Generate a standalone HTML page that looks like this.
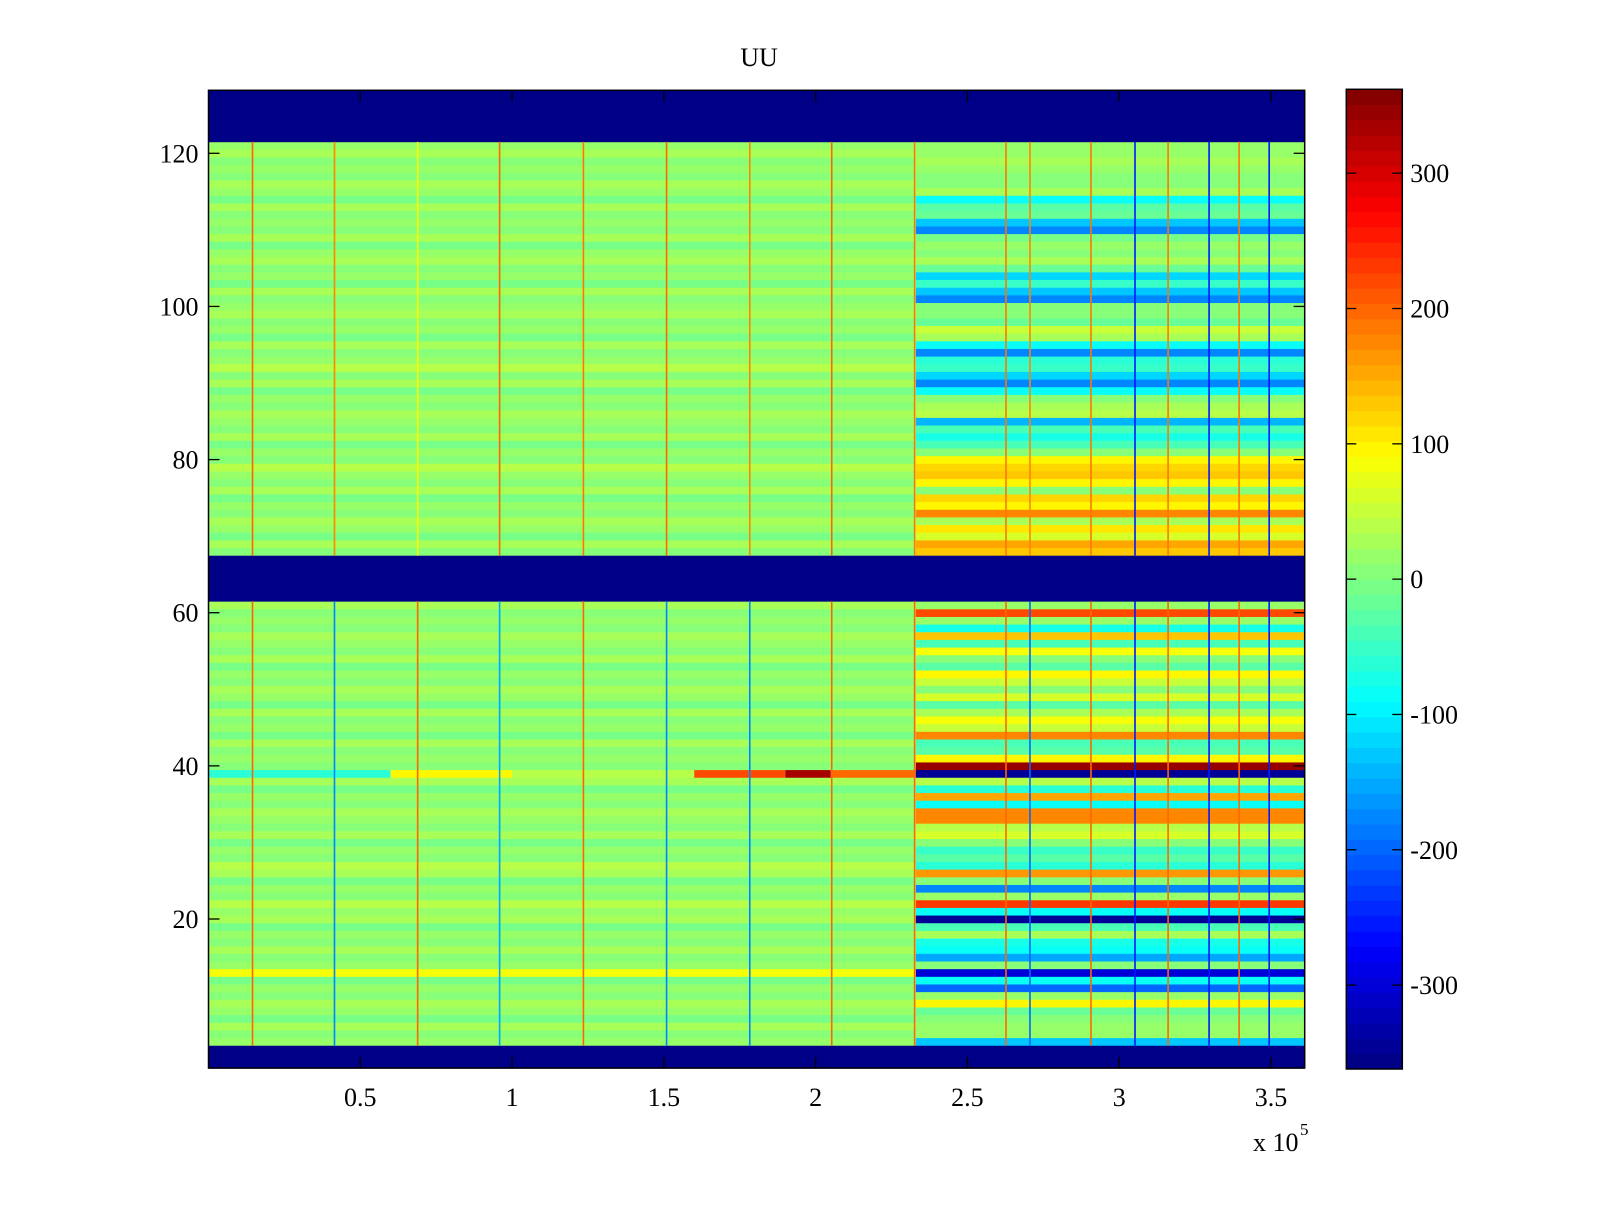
<!DOCTYPE html>
<html><head><meta charset="utf-8"><style>
html,body{margin:0;padding:0;background:#fff;}
svg text{font-family:"Liberation Serif",serif;fill:#000;}
</style></head><body>
<svg id="fig" width="1600" height="1200" xmlns="http://www.w3.org/2000/svg">
<rect width="1600" height="1200" fill="#fff"/>
<g id="cells"></g>
<g id="vlines"></g>
<g id="cbar"></g>
<g id="axes"></g>
<text x="759" y="66" font-size="26" text-anchor="middle">UU</text>
<text x="1253" y="1151" font-size="26">x 10</text>
<text x="1300" y="1135" font-size="17">5</text>
</svg>
<script>
// ---- data ----
const xMin = 0, xMax = 3.611;           // x in units of 1e5
const yMin = 0.5, yMax = 128.23;
const cMin = -362, cMax = 362;
const transitionX = 2.33;
const blueRows = [1,2,3,62,63,64,65,66,67,122,123,124,125,126,127,128];
// left-region base values, rows 4..61
const leftLower = [15,5,30,-5,20,25,5,15,-5,80,15,5,25,5,20,-5,25,15,35,5,20,-5,25,45,5,20,-5,25,5,20,25,5,15,-5,25,25,5,15,5,25,-5,15,5,25,-5,15,25,5,15,-5,25,5,15,25,5,15,5,25];
// left-region base values, rows 68..121
const leftUpper = [5,25,-5,15,25,5,15,-5,25,5,15,35,5,15,-5,25,5,15,25,5,15,-5,25,5,35,15,5,25,-5,15,5,25,15,5,25,-5,15,5,25,15,-5,25,5,15,5,25,-5,15,25,5,15,5,25,15];
// right-region values, rows 4..61
const rightLower = [-130,20,20,0,-20,100,20,-200,-90,-300,0,-150,-80,-70,30,-40,-340,-80,230,20,-180,0,160,-60,-30,-50,0,60,40,170,170,-80,150,-60,40,-350,350,100,-30,-40,170,50,80,30,-30,60,10,50,100,-30,0,80,-40,130,-70,20,220,20];
// right-region values, rows 68..121
const rightUpper = [130,150,60,110,30,180,100,120,10,100,130,120,100,10,-40,-70,-40,-140,40,30,0,-80,-180,-120,-50,-60,-170,-80,30,50,-20,0,0,-170,-130,-50,-120,-20,30,0,20,-10,-170,-130,-20,-30,-80,30,0,10,20,30,20,20];
// row 39 special segments in left region
const row39Starts = [0, 0.6, 1.0, 1.6, 1.9, 2.05];
const row39Ends   = [0.6, 1.0, 1.6, 1.9, 2.05, 2.33];
const row39Vals   = [-60, 100, 40, 220, 330, 200];
// vertical event lines
const lineX     = [0.145,0.415,0.689,0.959,1.235,1.509,1.783,2.053,2.326,2.627,2.706,2.907,3.052,3.161,3.296,3.395,3.494];
const lineUpper = [200,180,90,200,190,200,180,200,190,190,180,190,-250,190,-250,190,-260];
const lineLower = [200,-170,200,-150,200,-170,-170,200,200,200,-200,200,-250,200,-250,200,-250];
const xTicks = [0.5,1,1.5,2,2.5,3,3.5];
const xTickLabels = ["0.5","1","1.5","2","2.5","3","3.5"];
const yTicks = [20,40,60,80,100,120];
const cTicks = [-300,-200,-100,0,100,200,300];

// ---- geometry ----
const PL=208.5, PR=1304.7, PT=90.3, PB=1068;
const pxPerY = 7.657, y120 = 153.3;
const X = v => PL + (v - xMin) / (xMax - xMin) * (PR - PL);
const Y = v => y120 + (120 - v) * pxPerY;
const CBL=1346.3, CBR=1402.3, CBT=89.3, CBB=1069;
const C = v => CBB - (v - cMin) / (cMax - cMin) * (CBB - CBT);

function jet(v){
  let t=(v-cMin)/(cMax-cMin); t=Math.max(0,Math.min(1,t));
  let k=Math.min(63,Math.floor(t*64)); t=(k+0.5)/64;
  const cl=a=>Math.max(0,Math.min(1,a));
  const r=cl(1.5-Math.abs(4*t-3)), g=cl(1.5-Math.abs(4*t-2)), b=cl(1.5-Math.abs(4*t-1));
  return `rgb(${Math.round(r*255)},${Math.round(g*255)},${Math.round(b*255)})`;
}
const NS="http://www.w3.org/2000/svg";
function rect(parent,x0,x1,y0,y1,fill,name){
  const r=document.createElementNS(NS,'rect');
  r.setAttribute('x',Math.min(x0,x1));r.setAttribute('y',Math.min(y0,y1));
  r.setAttribute('width',Math.abs(x1-x0));r.setAttribute('height',Math.abs(y1-y0)+0.4);
  r.setAttribute('fill',fill);
  
  
  parent.appendChild(r);return r;
}
const cells=document.getElementById('cells');
function rowVal(row, side){
  if(row>=4&&row<=61) return side==='L'?leftLower[row-4]:rightLower[row-4];
  if(row>=68&&row<=121) return side==='L'?leftUpper[row-68]:rightUpper[row-68];
  return cMin;
}
for(let row=1;row<=128;row++){
  const y0=Y(Math.min(row+0.5,yMax)), y1=Y(row-0.5);
  if(blueRows.includes(row)){ rect(cells,X(xMin),X(xMax),y0,y1,jet(cMin),'blank-band-row'); continue; }
  if(row===39){
    for(let i=0;i<row39Vals.length;i++) rect(cells,X(row39Starts[i]),X(row39Ends[i]),y0,y1,jet(row39Vals[i]),'row-39-segment');
  } else {
    rect(cells,X(xMin),X(transitionX),y0,y1,jet(rowVal(row,'L')),'heatmap-row-left');
  }
  rect(cells,X(transitionX),X(xMax),y0,y1,jet(rowVal(row,'R')),'heatmap-row-right');
}
// event lines
const vl=document.getElementById('vlines');
for(let i=0;i<lineX.length;i++){
  const xa=X(lineX[i])-0.8, xb=X(lineX[i])+0.8;
  rect(vl,xa,xb,Y(121.5),Y(67.5),jet(lineUpper[i]),'event-line-upper');
  rect(vl,xa,xb,Y(61.5),Y(3.5),jet(lineLower[i]),'event-line-lower');
}
// colorbar
const cb=document.getElementById('cbar');
for(let k=0;k<64;k++){
  const v0=cMin+k*(cMax-cMin)/64, v1=cMin+(k+1)*(cMax-cMin)/64;
  rect(cb,CBL,CBR,C(v1),C(v0),jet((v0+v1)/2),'colorbar-band');
}
const ax=document.getElementById('axes');
function line(p,x1,y1,x2,y2,name){
  const l=document.createElementNS(NS,'line');
  l.setAttribute('x1',x1);l.setAttribute('y1',y1);l.setAttribute('x2',x2);l.setAttribute('y2',y2);
  l.setAttribute('stroke','#000');l.setAttribute('stroke-width','1.3');
  
  
  p.appendChild(l);
}
function text(p,x,y,s,anchor,name){
  const t=document.createElementNS(NS,'text');
  t.setAttribute('x',x);t.setAttribute('y',y);t.setAttribute('font-size','26');
  t.setAttribute('text-anchor',anchor);t.textContent=s;
  
  
  p.appendChild(t);
}
const box=document.createElementNS(NS,'rect');
box.setAttribute('x',PL);box.setAttribute('y',PT);box.setAttribute('width',PR-PL);box.setAttribute('height',PB-PT);
box.setAttribute('fill','none');box.setAttribute('stroke','#000');box.setAttribute('stroke-width','1.5');


ax.appendChild(box);
xTicks.forEach((v,i)=>{
  line(ax,X(v),PB,X(v),PB-11,'x-tick');
  line(ax,X(v),PT,X(v),PT+11,'x-tick-top');
  text(ax,X(v),PB+38,xTickLabels[i],'middle','x-tick-label');
});
yTicks.forEach(v=>{
  line(ax,PL,Y(v),PL+11,Y(v),'y-tick');
  line(ax,PR,Y(v),PR-11,Y(v),'y-tick-right');
  text(ax,PL-10,Y(v)+9,String(v),'end','y-tick-label');
});
const cf=document.createElementNS(NS,'rect');
cf.setAttribute('x',CBL);cf.setAttribute('y',CBT);cf.setAttribute('width',CBR-CBL);cf.setAttribute('height',CBB-CBT);
cf.setAttribute('fill','none');cf.setAttribute('stroke','#000');cf.setAttribute('stroke-width','1.5');


ax.appendChild(cf);
cTicks.forEach(v=>{
  line(ax,CBL,C(v),CBL+10,C(v),'colorbar-tick');
  line(ax,CBR,C(v),CBR-10,C(v),'colorbar-tick-right');
  text(ax,CBR+8,C(v)+9,String(v),'start','colorbar-tick-label');
});
</script>
</body></html>
